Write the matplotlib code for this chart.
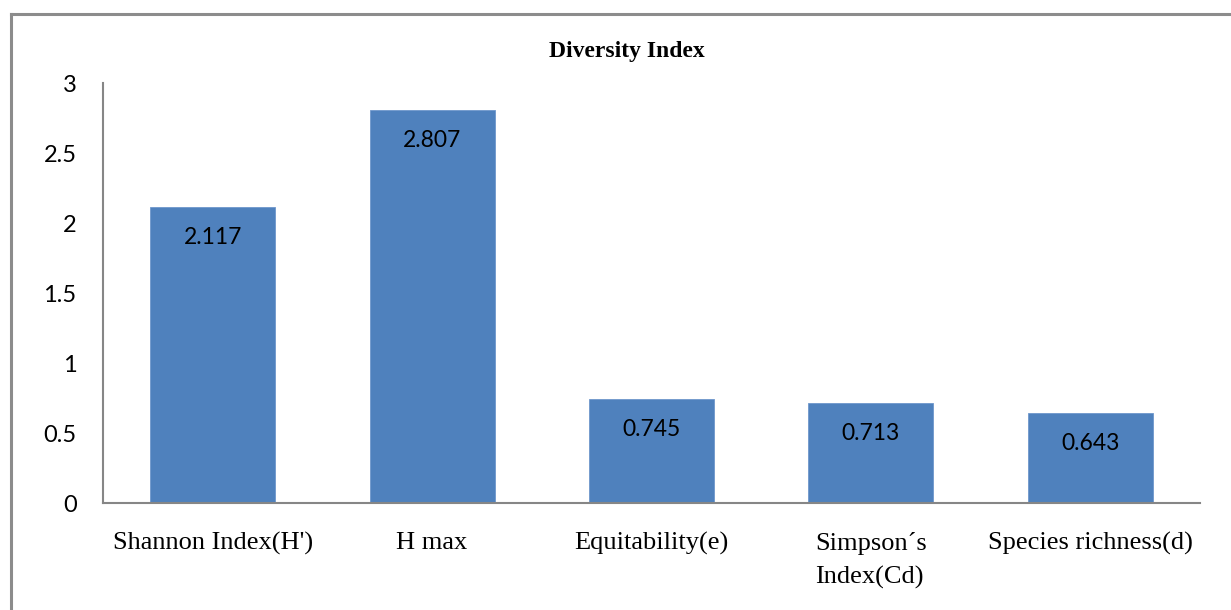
import matplotlib.pyplot as plt
from matplotlib.lines import Line2D

categorias = ["Shannon Index(H')", "H max", "Equitability(e)",
              "Simpson\u00b4s\nIndex(Cd)", "Species richness(d)"]
valores = [2.117, 2.807, 0.745, 0.713, 0.643]
rotulos = ["2.117", "2.807", "0.745", "0.713", "0.643"]
yticks = [0, 0.5, 1, 1.5, 2, 2.5, 3]
ytick_labels = ["0", "0.5", "1", "1.5", "2", "2.5", "3"]

W, H = 1231, 610
fig = plt.figure(figsize=(W / 100, H / 100), dpi=100)

# eixo: x 103..1200, y 83..503 (pixels)
ax = fig.add_axes([103 / W, 1 - 503 / H, (1200 - 103) / W, (503 - 83) / H])

pos = list(range(len(categorias)))
ax.bar(pos, valores, width=0.57, color="#4F81BD", edgecolor="#6f97cc", linewidth=0.6)

ax.set_xlim(-0.5, len(categorias) - 0.5)
ax.set_ylim(0, 3)

ax.set_yticks(yticks)
ax.set_yticklabels(ytick_labels, family="Lato", fontsize=17)
ax.set_xticks(pos)
ax.set_xticklabels(categorias, family="Liberation Serif", fontsize=19,
                   linespacing=1.6, va="top")
ax.tick_params(axis="y", length=0, pad=19)
ax.tick_params(axis="x", length=0, pad=21)
for lab in ax.get_xticklabels():
    lab.set_multialignment("left")

for s in ["top", "right"]:
    ax.spines[s].set_visible(False)
for s in ["left", "bottom"]:
    ax.spines[s].set_color("#868686")
    ax.spines[s].set_linewidth(1.5)

for x, v, t in zip(pos, valores, rotulos):
    ax.annotate(t, (x, v), xytext=(0, -22), textcoords="offset points",
                ha="center", va="center", family="Lato", fontsize=16.5, color="black")

fig.text(627 / W, 1 - 52 / H, "Diversity Index", ha="center", va="center",
         family="Liberation Serif", fontweight="bold", fontsize=17)

# moldura cinza
fig.add_artist(Line2D([11 / W, 1], [1 - 14 / H, 1 - 14 / H], color="#8c8c8c", lw=2.2,
                      transform=fig.transFigure))
fig.add_artist(Line2D([11 / W, 11 / W], [0, 1 - 14 / H], color="#8c8c8c", lw=2.2,
                      transform=fig.transFigure))

fig.savefig("out.png", dpi=100)
